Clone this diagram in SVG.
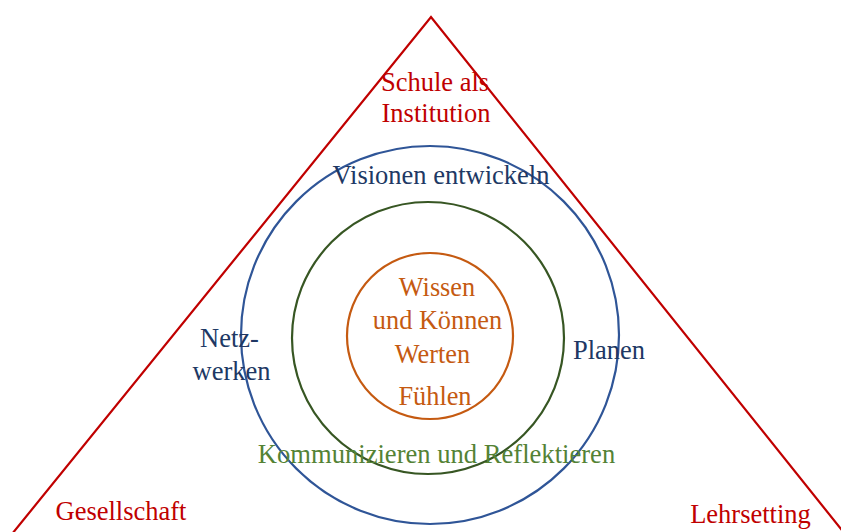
<svg xmlns="http://www.w3.org/2000/svg" width="841" height="532" viewBox="0 0 841 532">
<style>
text{font-family:"Liberation Serif","Times New Roman",serif;text-anchor:middle}
.red{fill:#C00000;font-size:26.5px}
.blue{fill:#203864;font-size:26.5px}
.green{fill:#548235;font-size:26.6px}
.orange{fill:#C55A11;font-size:26.3px}
.ln{fill:none;stroke-width:2.2}
</style>
<rect width="841" height="532" fill="#fff"/>
<g id="triangle">
<polyline class="ln" stroke="#C00000" points="12,534 431,17 845,534"/>
</g>
<g id="outer-circle">
<circle class="ln" stroke="#2F5597" cx="430" cy="335" r="189"/>
</g>
<g id="middle-circle">
<circle class="ln" stroke="#375623" cx="428" cy="338" r="136"/>
</g>
<g id="inner-circle">
<circle class="ln" stroke="#C55A11" cx="430" cy="336" r="83"/>
</g>
<g id="schule">
<text class="red" x="435" y="91">Schule als</text>
<text class="red" x="436" y="122">Institution</text>
</g>
<g id="gesellschaft"><text class="red" x="121" y="520">Gesellschaft</text></g>
<g id="lehrsetting"><text class="red" x="750.5" y="523">Lehrsetting</text></g>
<g id="visionen"><text class="blue" x="441" y="184">Visionen entwickeln</text></g>
<g id="netzwerken">
<text class="blue" x="229.5" y="347">Netz-</text>
<text class="blue" x="231.5" y="380">werken</text>
</g>
<g id="planen"><text class="blue" x="609" y="359">Planen</text></g>
<g id="kommunizieren"><text class="green" x="436.5" y="463">Kommunizieren und Reflektieren</text></g>
<g id="kern">
<text class="orange" x="437" y="296">Wissen</text>
<text class="orange" x="437.5" y="329">und Können</text>
<text class="orange" x="432.5" y="363">Werten</text>
<text class="orange" x="435" y="405">Fühlen</text>
</g>
</svg>
